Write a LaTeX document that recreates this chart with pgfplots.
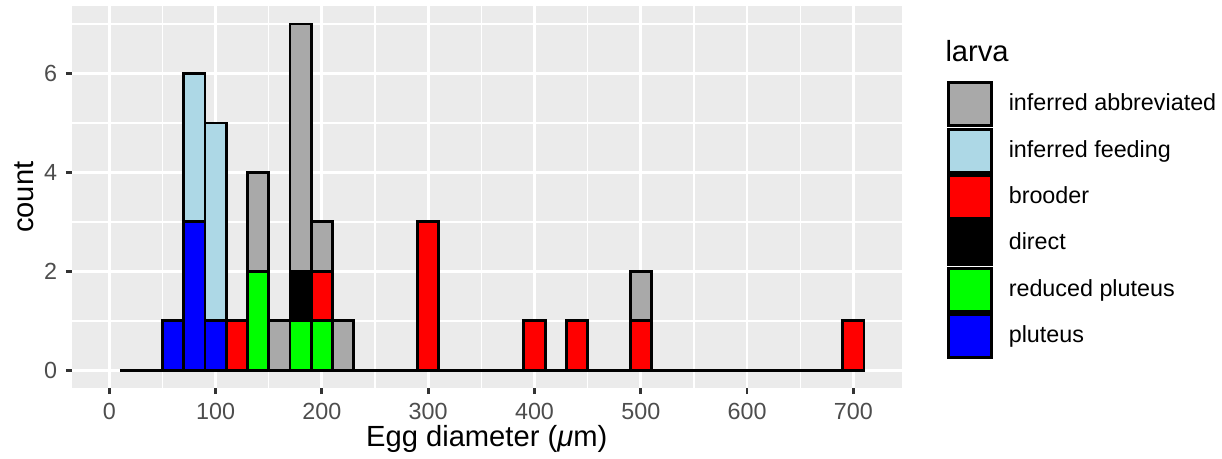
\documentclass[border=0pt]{standalone}
\usepackage{fontspec}
\setmainfont{Liberation Sans}
\usepackage{pgfplots}
\pgfplotsset{compat=1.18}
\definecolor{panelbg}{HTML}{EBEBEB}
\definecolor{abbr}{HTML}{A9A9A9}
\definecolor{lblue}{HTML}{ADD8E6}
\definecolor{gred}{HTML}{FF0000}
\definecolor{ggreen}{HTML}{00FF00}
\definecolor{gblue}{HTML}{0000FF}
\definecolor{tickgrey}{HTML}{4D4D4D}
\definecolor{tickmark}{HTML}{333333}
\newcommand{\smallf}{\fontsize{9.33}{11}\selectfont}
\newcommand{\bigf}{\fontsize{11.66}{14}\selectfont}
\pgfplotsset{ggkey/.style={legend image code/.code={\draw[##1,line width=1.13pt] (0pt,-8.6pt) rectangle (17.2pt,8.6pt);}},
  common/.style={at={(28.68pt,28.28pt)}, anchor=south west,
  scale only axis, width=332pt, height=152.92pt,
  xmin=-35.4, xmax=745.5, ymin=-0.364, ymax=7.364}}
\begin{document}
\begin{tikzpicture}
\useasboundingbox (0,0) rectangle (488.8pt,183.6pt);
\begin{axis}[common,
  axis background/.style={fill=panelbg},
  axis line style={draw=none},
  xtick={0,100,...,700}, ytick={0,2,4,6},
  minor xtick={50,150,...,650}, minor ytick={1,3,5,7},
  xmajorgrids, ymajorgrids, xminorgrids, yminorgrids,
  major grid style={white, line width=1.13pt},
  minor grid style={white, line width=0.57pt},
  tick pos=left, tick align=outside,
  major tick length=2.3pt, minor tick length=0pt,
  major tick style={draw=tickmark, line width=1.13pt},
  minor tick style={draw=none},
  /pgf/number format/assume math mode=true,
  /pgf/number format/1000 sep={},
  xticklabel style={font=\smallf, text=tickgrey},
  yticklabel style={font=\smallf, text=tickgrey},
  xlabel={Egg diameter (\textit{μ}m)},
  ylabel={count},
  xlabel style={font=\bigf, at={(axis description cs:0.5,-0.151)}, anchor=base},
  ylabel style={font=\bigf, at={(axis description cs:-0.0466,0.5)}, anchor=base},
]
\addplot[draw=black, line width=1.13pt, sharp plot, mark=none] coordinates {(10,0) (710,0)};
\end{axis}
\begin{axis}[common,
  hide axis,
  ybar stacked, bar width=20,
  legend style={at={(axis description cs:1.0551,0.8028)}, anchor=north west,
    draw=none, fill=none, inner sep=0pt, outer sep=0pt,
    row sep=0.2pt, column sep=6.2pt,
    nodes={inner sep=0pt, font=\smallf}},
  legend cell align=left,
  reverse legend,
]
\addplot[ggkey, fill=gblue, draw=black, line width=1.13pt] coordinates {
(60,1) (80,3) (100,1) (120,0) (140,0) (160,0) (180,0) (200,0) (220,0) (300,0) (400,0) (440,0) (500,0) (700,0)};
\addlegendentry{pluteus}
\addplot[ggkey, fill=ggreen, draw=black, line width=1.13pt] coordinates {
(60,0) (80,0) (100,0) (120,0) (140,2) (160,0) (180,1) (200,1) (220,0) (300,0) (400,0) (440,0) (500,0) (700,0)};
\addlegendentry{reduced pluteus}
\addplot[ggkey, fill=black, draw=black, line width=1.13pt] coordinates {
(60,0) (80,0) (100,0) (120,0) (140,0) (160,0) (180,1) (200,0) (220,0) (300,0) (400,0) (440,0) (500,0) (700,0)};
\addlegendentry{direct}
\addplot[ggkey, fill=gred, draw=black, line width=1.13pt] coordinates {
(60,0) (80,0) (100,0) (120,1) (140,0) (160,0) (180,0) (200,1) (220,0) (300,3) (400,1) (440,1) (500,1) (700,1)};
\addlegendentry{brooder}
\addplot[ggkey, fill=lblue, draw=black, line width=1.13pt] coordinates {
(60,0) (80,3) (100,4) (120,0) (140,0) (160,0) (180,0) (200,0) (220,0) (300,0) (400,0) (440,0) (500,0) (700,0)};
\addlegendentry{inferred feeding}
\addplot[ggkey, fill=abbr, draw=black, line width=1.13pt] coordinates {
(60,0) (80,0) (100,0) (120,0) (140,2) (160,1) (180,5) (200,1) (220,1) (300,0) (400,0) (440,0) (500,1) (700,0)};
\addlegendentry{inferred abbreviated}
\end{axis}
\node[anchor=base west, font=\bigf, inner sep=0pt] at (378pt,158.8pt) {larva};
\end{tikzpicture}
\end{document}
